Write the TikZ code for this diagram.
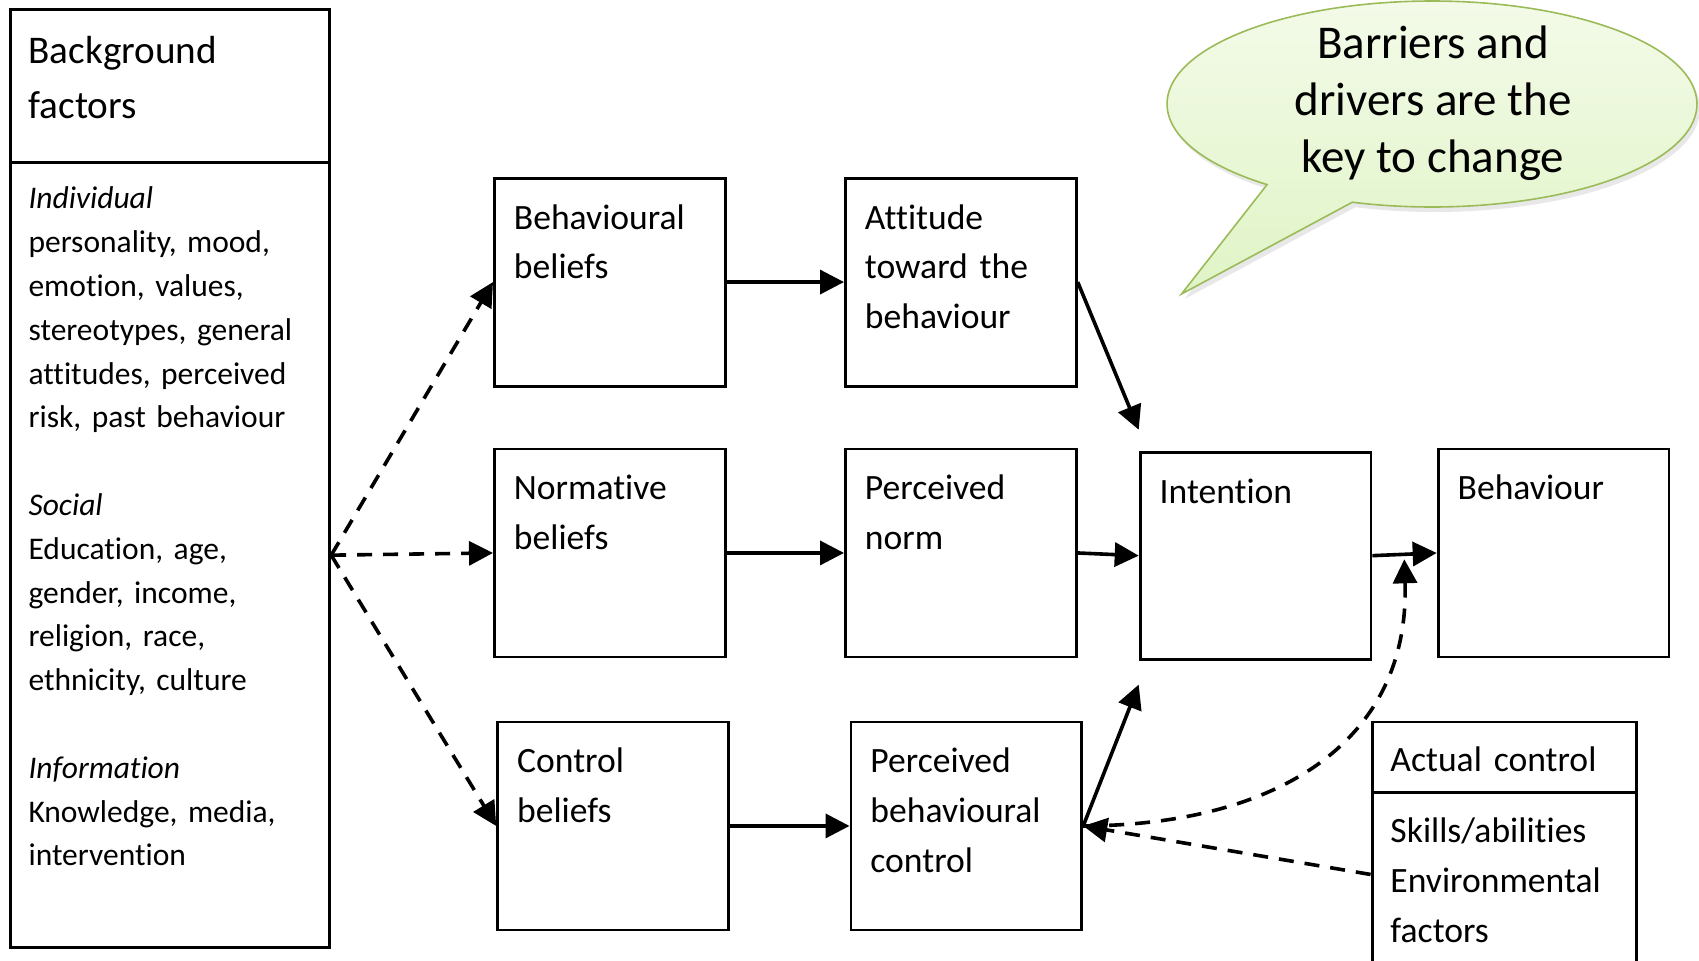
\documentclass[tikz,border=0pt]{standalone}
\usepackage{fontspec}
\setmainfont{Carlito}[Ligatures=NoCommon]
\usetikzlibrary{arrows.meta,shadows}

\definecolor{bubbletop}{HTML}{F4FBEA}
\definecolor{bubblebot}{HTML}{E0F4C6}
\definecolor{bubbleedge}{HTML}{9BBB59}

\tikzset{
  box/.style={draw, fill=white, line width=1.45pt, anchor=north west, align=left,
    inner xsep=9.75pt, inner ysep=0pt, text width=95.9pt, minimum width=115.4pt,
    text height=25.5pt, text depth=78.5pt, font=\fontsize{17.8}{24.9}\selectfont},
  bghead/.style={box, inner xsep=9.2pt, text width=141.4pt, minimum width=159.8pt,
    text height=27.2pt, text depth=49.7pt, font=\fontsize{19.6}{27.5}\selectfont},
  bgbody/.style={bghead, text height=23pt, text depth=369.3pt,
    font=\fontsize{15.75}{21.9}\selectfont},
  achead/.style={box, inner xsep=9.2pt, text width=113.8pt, minimum width=132.2pt,
    text height=24.75pt, text depth=10.5pt},
  acbody/.style={achead, text height=25pt, text depth=72pt},
  link/.style={line width=1.8pt, -{Triangle[length=12pt,width=12pt]}},
  dlink/.style={link, dash pattern=on 7.5pt off 5.5pt},
  bubble/.style={draw=bubbleedge, line width=0.8pt, top color=bubbletop, bottom color=bubblebot,
    drop shadow={shadow xshift=1.5pt, shadow yshift=-2.5pt, opacity=0.18}},
}

\begin{document}
\frenchspacing
\begin{tikzpicture}[x=0.5pt, y=-0.5pt]
    \useasboundingbox (0,0) rectangle (1699,960);
    % speech bubble
    \path[bubble] (1432,104) ++(128.5:265 and 103)
      arc[start angle=128.5, end angle=467.5, x radius=265, y radius=103]
      -- (1181.5,294) -- cycle;
    \node(msg) at (1433,103) [align=center, font=\fontsize{23.5}{28.5}\selectfont]
      {Barriers and\\drivers are the\\key to change};
    % background factors
    \node(bgh) at (8.7,7.6) [bghead] {Background\\factors};
    \node(bgb) at (8.7,161.4) [bgbody] {\textit{Individual}\\personality, mood,\\emotion, values,\\stereotypes, general\\attitudes, perceived\\risk, past behaviour\\[21.9pt]
      \textit{Social}\\Education, age,\\gender, income,\\religion, race,\\ethnicity, culture\\[21.9pt]
      \textit{Information}\\Knowledge, media,\\intervention};
    % beliefs and their results
    \node(bb) at (493,176.6) [box] {Behavioural\\beliefs};
    \node(at) at (844,176.6) [box] {Attitude\\toward the\\behaviour};
    \node(nb) at (493,447.5) [box] {Normative\\beliefs};
    \node(pn) at (844,447.5) [box] {Perceived\\norm};
    \node(cb) at (496.2,720.5) [box] {Control\\beliefs};
    \node(pbc) at (849.5,720.5) [box] {Perceived\\behavioural\\control};
    \node(in) at (1138.7,450.7) [box, text depth=78pt] {Intention};
    \node(beh) at (1436.7,447.5) [box] {Behaviour};
    % actual control
    \node(ach) at (1370.6,720.5) [achead] {Actual control};
    \node(acb) at (1370.6,791) [acbody] {Skills/abilities\\Environmental\\factors};
    \coordinate(mod) at (1404.3,559.3);
    % connectors
    \draw[dlink] (bgb.east) -- (bb.west);
    \draw[dlink] (bgb.east) -- (nb.west);
    \draw[dlink] (bgb.east) -- (cb.west);
    \draw[link] (bb.east) -- (at.west);
    \draw[link] (nb.east) -- (pn.west);
    \draw[link] (cb.east) -- (pbc.west);
    \draw[link] (at.east) -- ([yshift=10.5pt]in.north west);
    \draw[link] (pn.east) -- (in.west);
    \draw[link] (pbc.east) -- ([yshift=-12pt]in.south west);
    \draw[link] (in.east) -- (beh.west);
    \draw[dlink] (pbc.east) .. controls (1280,825) and (1410,740) .. (mod);
    \draw[dlink] ([yshift=7.5pt]acb.west) -- (pbc.east);
\end{tikzpicture}
\end{document}
